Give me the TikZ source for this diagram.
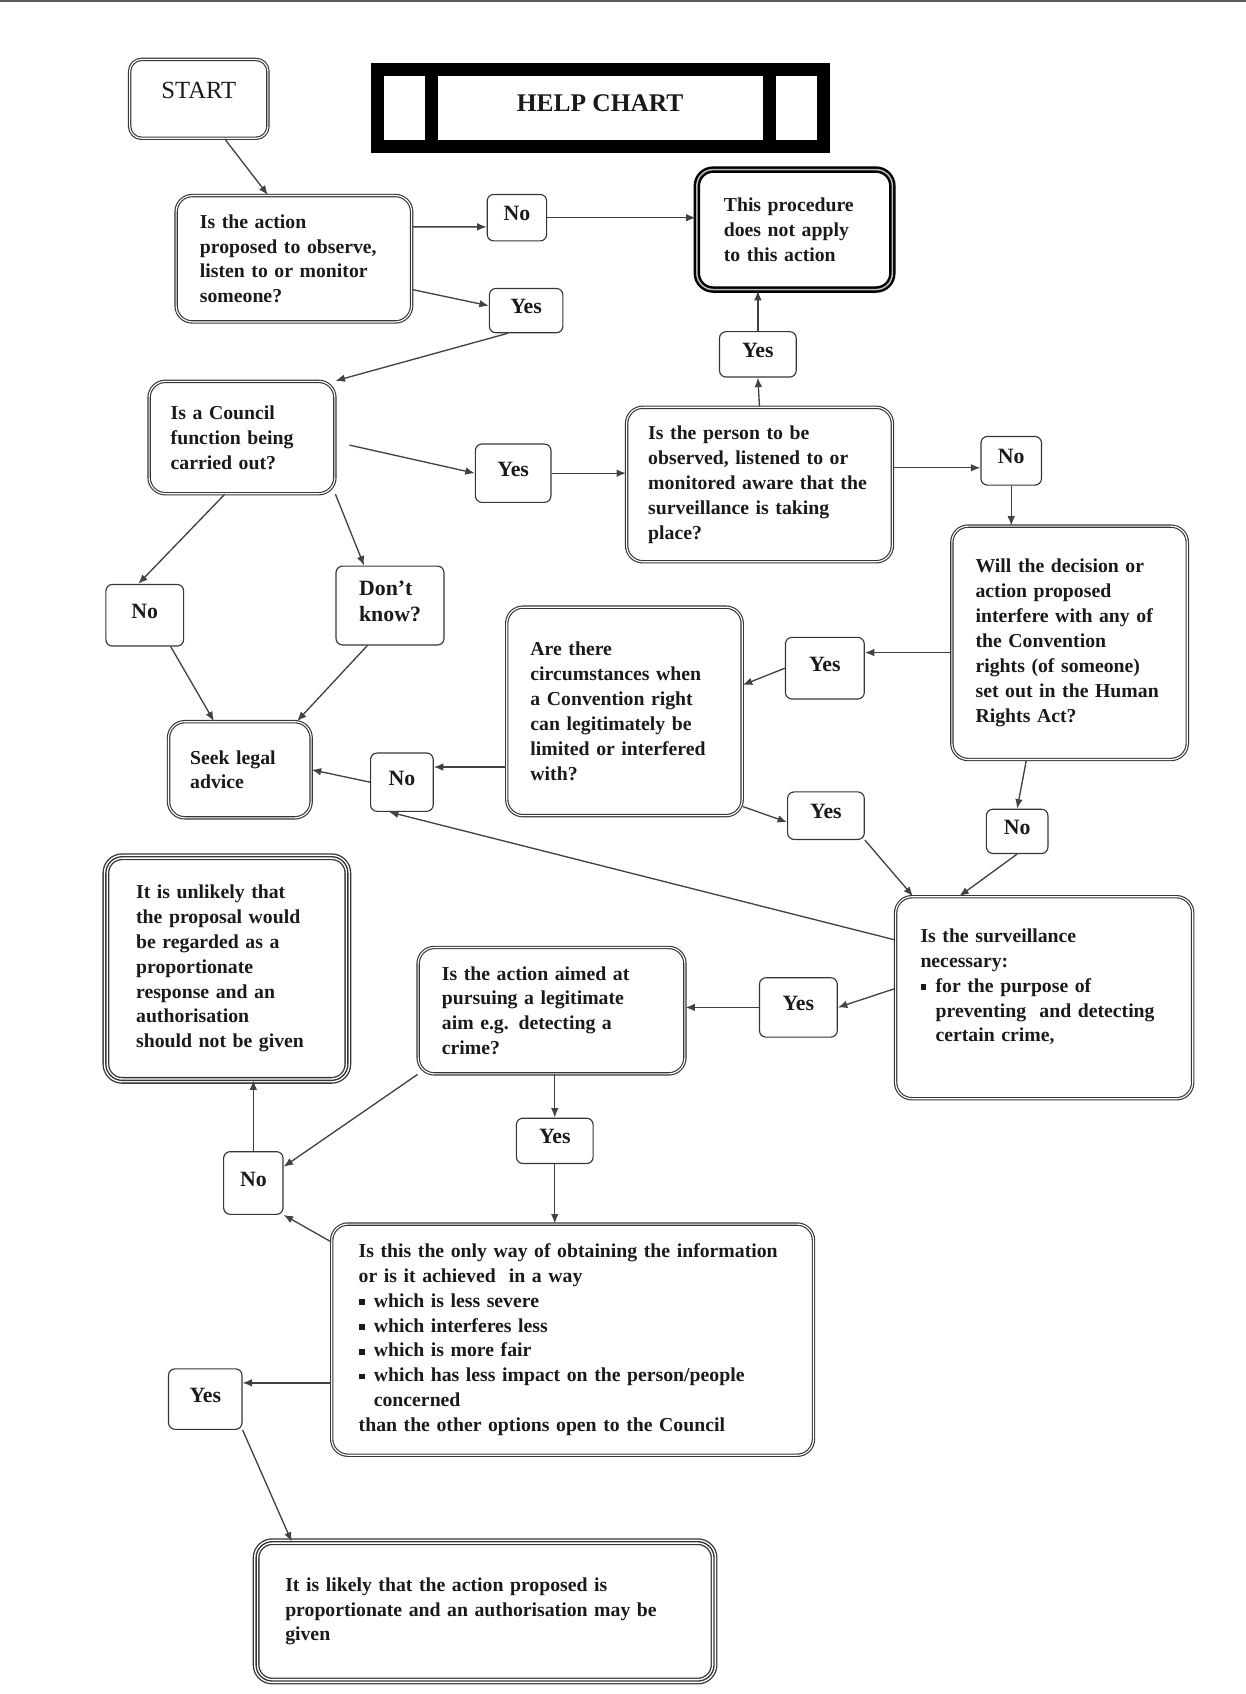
\documentclass[tikz,border=0pt]{standalone}
\usepackage{fontspec}
\setmainfont{Liberation Serif}
\usepackage{tikz}
\usetikzlibrary{positioning,arrows.meta}

\definecolor{boxline}{HTML}{363636}
\definecolor{ink}{HTML}{1A1A1A}
\definecolor{arrowline}{HTML}{424242}

\newcommand{\chartfont}{\bfseries\fontsize{10.4}{13.1}\selectfont}
\newcommand{\labelfont}{\bfseries\fontsize{11.5}{13.5}\selectfont}
\newcommand{\sqbul}{\makebox[0.28cm][l]{\raisebox{0.12em}{\rule{0.3em}{0.3em}}}}
\newcommand{\indline}{\hspace*{0.28cm}}

\tikzset{
  qbox/.style={draw=boxline, line width=0.6pt, double, double distance=0.6pt,
    rounded corners=0.3cm, align=left, inner xsep=0.44cm, inner ysep=0.1cm,
    font=\chartfont, text=ink},
  endbox/.style={qbox, draw=black, line width=1.3pt, double=gray!55, double distance=0.8pt},
  finbox/.style={qbox, line width=0.7pt, double distance=2.2pt, outer sep=0pt},
  ans/.style={draw=boxline, line width=0.6pt, rounded corners=0.12cm,
    font=\labelfont, text=ink, text depth=0.15cm, inner sep=0.1cm},
  arr/.style={draw=arrowline, line width=0.7pt, -{Latex[length=5pt,width=4pt]}}
}

\begin{document}
\begin{tikzpicture}[x=0.02cm, y=-0.02cm]
    \useasboundingbox (0,0) rectangle (1153,1568);
    % bordo superiore della scansione
    \draw[gray!70!black, line width=1.2pt] (0,1) -- (1153,1);

    % partenza e titolo
    \node[draw=boxline, line width=0.6pt, double, double distance=0.6pt, rounded corners=0.22cm,
      minimum width=2.56cm, minimum height=1.46cm, text depth=0.32cm,
      font=\fontsize{13}{15}\selectfont, text=ink] (start) at (184,91.5) {START};
    \node[draw=black, line width=0.24cm, outer sep=0pt, minimum width=8.26cm, minimum height=1.44cm,
      text depth=0.2cm, font=\bfseries\fontsize{13.4}{16}\selectfont, text=ink] (title) at (555.5,100) {HELP CHART};
    \draw[line width=0.24cm] ([xshift=1cm]title.north west) -- ([xshift=1cm]title.south west);
    \draw[line width=0.24cm] ([xshift=-1cm]title.north east) -- ([xshift=-1cm]title.south east);

    % domande
    \node[qbox, text width=3.48cm, minimum height=2.34cm] (q1) at (272,239.5)
      {Is the action\\ proposed to observe,\\ listen to or monitor\\ someone?};
    \node[endbox, inner xsep=0.5cm, text width=2.62cm, minimum height=2.22cm] (na) at (735.5,212.5)
      {This procedure\\ does not apply\\ to this action};
    \node[qbox, inner xsep=0.4cm, text width=2.64cm, minimum height=2.08cm] (q2) at (224,405)
      {Is a Council\\ function being\\ carried out?};
    \node[qbox, inner xsep=0.4cm, text width=4.12cm, minimum height=2.86cm] (q3) at (703,448.5)
      {Is the person to be\\ observed, listened to or\\ monitored aware that the\\ surveillance is taking\\ place?};
    \node[qbox, text width=3.48cm, minimum height=4.32cm] (q4) at (990,595)
      {Will the decision or\\ action proposed\\ interfere with any of\\ the Convention\\ rights (of someone)\\ set out in the Human\\ Rights Act?};
    \node[qbox, text width=3.48cm, minimum height=3.86cm] (q5) at (578,658.5)
      {Are there\\ circumstances when\\ a Convention right\\ can legitimately be\\ limited or interfered\\ with?};
    \node[qbox, inner xsep=0.4cm, text width=1.84cm, minimum height=1.78cm] (seek) at (222,712.5)
      {Seek legal\\ advice};
    \node[qbox, inner xsep=0.46cm, text width=4.58cm, minimum height=3.74cm] (q6) at (966.5,923.5)
      {Is the surveillance\\ necessary:\\ \sqbul for the purpose of\\ \indline preventing\ \ and detecting\\ \indline certain crime,\\ \mbox{}};
    \node[qbox, text width=4.06cm, minimum height=2.34cm] (q7) at (510.5,935.5)
      {Is the action aimed at\\ pursuing a legitimate\\ aim e.g. detecting a\\ crime?};
    \node[qbox, inner xsep=0.5cm, text width=7.92cm, minimum height=4.28cm] (q8) at (530,1240)
      {Is this the only way of obtaining the information\\ or is it achieved\ \ in a way\\
       \sqbul which is less severe\\ \sqbul which interferes less\\ \sqbul which is more fair\\
       \sqbul which has less impact on the person/people\\ \indline concerned\\
       than the other options open to the Council};
    \node[finbox, inner xsep=0.56cm, text width=3.36cm, minimum height=4.14cm] (un) at (210,896.5)
      {It is unlikely that\\ the proposal would\\ be regarded as a\\ proportionate\\ response and an\\ authorisation\\ should not be given};
    \node[finbox, inner xsep=0.54cm, text width=7.4cm, minimum height=2.58cm] (li) at (449,1491.5)
      {It is likely that the action proposed is\\ proportionate and an authorisation may be\\ given};
    \foreach \n in {un,li}
      \draw[boxline, line width=0.7pt, rounded corners=0.3cm] (\n.south west) rectangle (\n.north east);

    % risposte
    \node[ans, minimum width=1.1cm, minimum height=0.86cm] (n1) at (478.5,201.5) {No};
    \node[ans, minimum width=1.36cm, minimum height=0.82cm] (y1) at (487,287.5) {Yes};
    \node[ans, minimum width=1.42cm, minimum height=0.84cm] (y2) at (701.5,328) {Yes};
    \node[ans, minimum width=1.4cm, minimum height=1.08cm] (y3) at (475,438) {Yes};
    \node[ans, minimum width=1.12cm, minimum height=0.9cm] (n2) at (936,426.5) {No};
    \node[ans, minimum width=1.44cm, minimum height=1.14cm] (n0) at (134,569.5) {No};
    \node[ans, align=left, minimum width=2cm, minimum height=1.46cm] (dk) at (361,560.5) {Don't\\ know?};
    \node[ans, minimum width=1.46cm, minimum height=1.14cm] (y4) at (763.5,618.5) {Yes};
    \node[ans, minimum width=1.16cm, minimum height=1.08cm] (n3) at (372,724) {No};
    \node[ans, minimum width=1.42cm, minimum height=0.88cm] (y5) at (764.5,755) {Yes};
    \node[ans, minimum width=1.14cm, minimum height=0.82cm] (n4) at (941.5,769.5) {No};
    \node[ans, minimum width=1.44cm, minimum height=1.1cm] (y6) at (739,932.5) {Yes};
    \node[ans, minimum width=1.42cm, minimum height=0.84cm] (y7) at (513.5,1056) {Yes};
    \node[ans, minimum width=1.1cm, minimum height=1.16cm] (n5) at (234.5,1095) {No};
    \node[ans, minimum width=1.36cm, minimum height=1.12cm] (y8) at (190,1295) {Yes};

    % frecce
    \draw[arr] ([xshift=0.48cm]start.south) -- ([xshift=-0.48cm]q1.north);
    \draw[arr] ([yshift=0.59cm]q1.east) -- ([yshift=-0.17cm]n1.west);
    \draw[arr] (n1.east) -- (n1.east -| na.west);
    \draw[arr] ([yshift=-0.57cm]q1.east) -- ([yshift=0.09cm]y1.west);
    \draw[arr] ([xshift=-0.34cm]y1.south) -- (q2.north east);
    \draw[arr] ([xshift=0.26cm,yshift=-0.14cm]q2.east) -- (y3.west);
    \draw[arr] (y3.east) -- (y3.east -| q3.west);
    \draw[arr] (q3.north) -- (y2.south);
    \draw[arr] (y2.north) -- (y2.north |- na.south);
    \draw[arr] ([yshift=0.31cm]q3.east) -- ([yshift=0.31cm]q3.east -| n2.west);
    \draw[arr] (n2.south) -- (n2.south |- q4.north);
    \draw[arr] ([yshift=-0.18cm]q4.west) -- ([yshift=-0.18cm]q4.west -| y4.east);
    \draw[arr] (y4.west) -- ([yshift=0.49cm]q5.east);
    \draw[arr] ([yshift=-1.03cm]q5.west) -- ([yshift=-1.03cm]q5.west -| n3.east);
    \draw[arr] (n3.west) -- (seek.east);
    \draw[arr] ([xshift=-0.32cm]q2.south) -- ([xshift=-0.12cm]n0.north);
    \draw[arr] (q2.south east) -- ([xshift=-0.48cm]dk.north);
    \draw[arr] ([xshift=0.48cm]n0.south) -- ([xshift=-0.48cm]seek.north);
    \draw[arr] ([xshift=-0.42cm]dk.south) -- ([xshift=1.06cm]seek.north);
    \draw[arr] ([yshift=0.18cm]q5.south east) -- ([yshift=-0.12cm]y5.west);
    \draw[arr] (y5.south east) -- ([xshift=-2.43cm]q6.north);
    \draw[arr] ([xshift=-0.8cm]q4.south) -- (n4.north);
    \draw[arr] (n4.south) -- ([xshift=-1.57cm]q6.north);
    \draw[arr] ([yshift=1.07cm]q6.west) -- ([xshift=-0.24cm]n3.south);
    \draw[arr] ([yshift=0.17cm]q6.west) -- (y6.east);
    \draw[arr] (y6.west) -- (y6.west -| q7.east);
    \draw[arr] (q7.south -| y7.north) -- (y7.north);
    \draw[arr] (y7.south) -- (y7.south |- q8.north);
    \draw[arr] (q7.south west) -- ([yshift=0.3cm]n5.east);
    \draw[arr] ([yshift=-0.34cm]q8.north west) -- (n5.south east);
    \draw[arr] (n5.north) -- (n5.north |- un.south);
    \draw[arr] ([yshift=-0.8cm]q8.west) -- ([yshift=-0.8cm]q8.west -| y8.east);
    \draw[arr] (y8.south east) -- ([xshift=-3.58cm]li.north);
\end{tikzpicture}
\end{document}
